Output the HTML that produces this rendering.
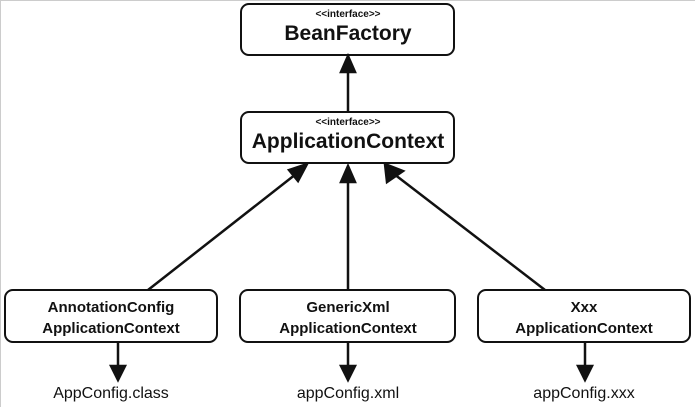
<!DOCTYPE html>
<html><head><style>
body{margin:0;background:#fff;}
svg{display:block;font-family:"Liberation Sans",Arial,sans-serif;}
</style></head><body>
<svg width="695" height="407" viewBox="0 0 695 407">
<defs><marker id="a" markerWidth="10" markerHeight="10" refX="9" refY="5" orient="auto" markerUnits="userSpaceOnUse"><path d="M0,0 L10,5 L0,10 Z" fill="#111" transform="scale(1.4) translate(-3,-1.4)"/></marker></defs>
<line x1="0.5" y1="0" x2="0.5" y2="407" stroke="#ccc"/>
<line x1="0" y1="0.5" x2="695" y2="0.5" stroke="#ccc"/>
<g fill="#fff" stroke="#111" stroke-width="2">
<rect x="241" y="4" width="213" height="51" rx="8"/>
<rect x="241" y="112" width="213" height="51" rx="8"/>
<rect x="5" y="290" width="212" height="52" rx="8"/>
<rect x="240" y="290" width="215" height="52" rx="8"/>
<rect x="478" y="290" width="212" height="52" rx="8"/>
</g>
<g stroke="#111" stroke-width="2.5" fill="#111">
<line x1="348" y1="111" x2="348" y2="70"/><path d="M341,72 L348,56 L355,72 Z"/>
<line x1="348" y1="290" x2="348" y2="180"/><path d="M341,182 L348,166 L355,182 Z"/>
<line x1="148" y1="290" x2="296" y2="174"/><path d="M289,170 L307,164 L298,181 Z"/>
<line x1="545" y1="290" x2="394" y2="174"/><path d="M387,182 L385,164 L403,171 Z"/>
<line x1="118" y1="342" x2="118" y2="370"/><path d="M111,366 L118,380 L125,366 Z"/>
<line x1="348" y1="342" x2="348" y2="370"/><path d="M341,366 L348,380 L355,366 Z"/>
<line x1="585" y1="342" x2="585" y2="370"/><path d="M578,366 L585,380 L592,366 Z"/>
</g>
<g text-anchor="middle" fill="#111">
<text x="348" y="17" font-size="10" font-weight="bold">&lt;&lt;interface&gt;&gt;</text>
<text x="348" y="40" font-size="21" font-weight="bold">BeanFactory</text>
<text x="348" y="125" font-size="10" font-weight="bold">&lt;&lt;interface&gt;&gt;</text>
<text x="348" y="148" font-size="21" font-weight="bold">ApplicationContext</text>
<g font-size="15" font-weight="bold">
<text x="111" y="312">AnnotationConfig</text><text x="111" y="333">ApplicationContext</text>
<text x="348" y="312">GenericXml</text><text x="348" y="333">ApplicationContext</text>
<text x="584" y="312">Xxx</text><text x="584" y="333">ApplicationContext</text>
</g>
<g font-size="16">
<text x="111" y="398">AppConfig.class</text>
<text x="348" y="398">appConfig.xml</text>
<text x="584" y="398">appConfig.xxx</text>
</g>
</g>
</svg>
</body></html>
